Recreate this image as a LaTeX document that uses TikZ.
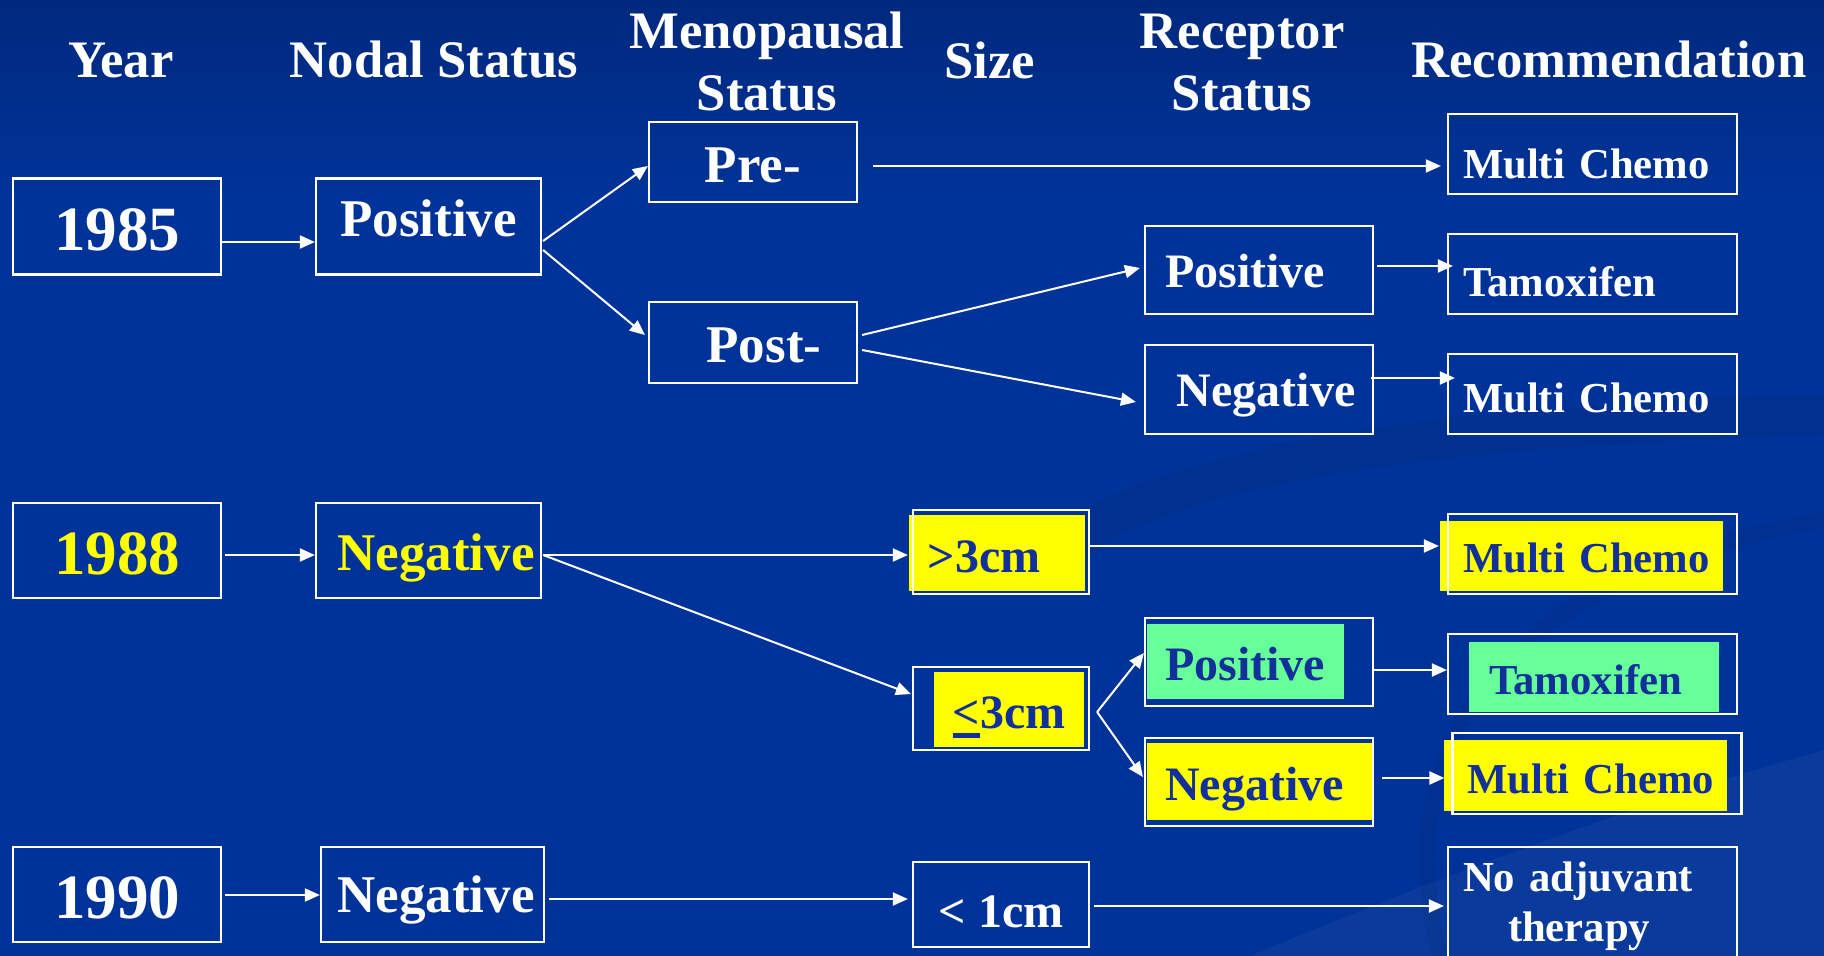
\documentclass[tikz,border=0pt]{standalone}
\usepackage{fontspec}
\setmainfont{Liberation Serif}
\usetikzlibrary{arrows.meta,calc}
\definecolor{slideblue}{HTML}{003399}
\definecolor{slidetop}{HTML}{00297E}
\definecolor{hiyellow}{HTML}{FFFF00}
\definecolor{higreen}{HTML}{66FF99}
\definecolor{hiink}{HTML}{12309A}

\begin{document}
\begin{tikzpicture}[x=1pt, y=-1pt, >={Triangle[length=15pt,width=13pt]}]
  \tikzstyle{box}=[rectangle, draw=white, line width=2.2pt, text=white, inner sep=0pt]
  \tikzstyle{head}=[text=white, font=\bfseries\fontsize{52.7}{62.5}\selectfont, align=center, anchor=base]
  \tikzstyle{yearbox}=[box, minimum width=208pt, minimum height=96pt, text height=48pt, text depth=0pt, font=\bfseries\fontsize{63}{70}\selectfont]
  \tikzstyle{nodal}=[box, minimum width=225pt, minimum height=96pt, text height=40pt, text depth=0pt, font=\bfseries\fontsize{53}{60}\selectfont]
  \tikzstyle{sizebox}=[box, minimum width=176pt, minimum height=84pt, text height=40pt, text depth=0pt, font=\bfseries\fontsize{48}{55}\selectfont]
  \tikzstyle{recept}=[box, minimum width=228pt, minimum height=88pt, text height=34pt, text depth=0pt, font=\bfseries\fontsize{48}{55}\selectfont]
  \tikzstyle{advice}=[box, minimum width=289pt, minimum height=80pt, text width=259pt, inner xsep=15pt, align=left, text height=40pt, text depth=0pt, font=\bfseries\fontsize{42.7}{50}\selectfont]
  \tikzstyle{link}=[->, white, line width=2pt]

  \useasboundingbox (0,0) rectangle (1824,956);
  % background and swooshes
  \fill[slideblue] (0,0) rectangle (1824,956);
  \shade[top color=slidetop, bottom color=slideblue] (0,0) rectangle (1824,200);
  \fill[black, opacity=0.06] (1040,540) .. controls (1150,440) and (1500,400) .. (1824,395) -- (1824,435) .. controls (1500,445) and (1200,470) .. (1080,560) -- cycle;
  \draw[black, opacity=0.05, line width=16pt] (1440,956) .. controls (1390,760) and (1480,580) .. (1824,520);
  \fill[white, opacity=0.035] (1250,956) .. controls (1480,860) and (1680,790) .. (1824,750) -- (1824,956) -- cycle;

  % column heads
  \node[head] (hyear) at (121,77) {Year};
  \node[head] (hnodal) at (434,77) {Nodal Status};
  \node[head] (hmeno) at (767,110.5) {Menopausal\\Status};
  \node[head] (hsize) at (990,78) {Size};
  \node[head] (hrecep) at (1242,110.5) {Receptor\\Status};
  \node[head] (hadvice) at (1609,77) {Recommendation};

  % 1985
  \node[yearbox] (y85) at (117,226.5) {1985};
  \node[nodal, text depth=21pt] (pos85) at (428.5,226.5) {Positive};
  \node[nodal, minimum width=208pt, minimum height=80pt] (pre) at (753,162) {Pre-};
  \node[nodal, minimum width=208pt, minimum height=81pt] (post) at (753,342.5) {\hspace*{22pt}Post-};
  \node[recept] (rp85) at (1259,270) {Positive\hspace*{28pt}};
  \node[recept, minimum height=89pt] (rn85) at (1259,389.5) {\hspace*{14pt}Negative};
  \node[advice, text height=48pt] (mc1) at (1592.5,154) {Multi Chemo};
  \node[advice, text height=45pt] (tam1) at (1592.5,274) {Tamoxifen};
  \node[advice, text height=36pt] (mc2) at (1592.5,394) {Multi Chemo};

  % 1988
  \fill[hiyellow] (909,515) rectangle (1085,591);
  \fill[hiyellow] (934,672) rectangle (1084,747);
  \fill[higreen] (1147,624) rectangle (1344,699);
  \fill[hiyellow] (1147,743) rectangle (1373,820);
  \fill[hiyellow] (1440,521) rectangle (1723,591);
  \fill[higreen] (1469,642) rectangle (1719,712);
  \fill[hiyellow] (1444,740) rectangle (1727,811);
  \node[yearbox, text=hiyellow, minimum height=95pt] (y88) at (117,550.5) {1988};
  \node[nodal, text=hiyellow, minimum height=95pt] (neg88) at (428.5,550.5) {\hspace*{15pt}Negative};
  \node[sizebox, text=hiink] (big3) at (1001,552) {>3cm\hspace*{34pt}};
  \node[sizebox, text=hiink, minimum height=83pt] (small3) at (1001,708.5) {\hspace*{16pt}\rlap{\rule[-9pt]{27pt}{5pt}}<3cm};
  \node[recept, text=hiink, text height=37pt] (rp88) at (1259,662) {Positive\hspace*{28pt}};
  \node[recept, text=hiink, text height=36pt] (rn88) at (1259,782) {Negative\hspace*{9pt}};
  \node[advice, text=hiink, text height=36pt] (mc3) at (1592.5,554) {Multi Chemo};
  \node[advice, text=hiink, text height=41pt] (tam2) at (1592.5,674) {\hspace*{26pt}Tamoxifen};
  \node[advice, text=hiink, minimum width=288pt, minimum height=81pt, text height=39pt] (mc4) at (1597,773.5) {Multi Chemo};

  % 1990
  \node[yearbox, minimum height=95pt] (y90) at (117,894.5) {1990};
  \node[nodal, minimum width=223pt, minimum height=95pt, text depth=5pt] (neg90) at (432.5,894.5) {\hspace*{7pt}Negative};
  \node[sizebox, minimum height=85pt, text height=45pt] (small1) at (1001,904.5) {< 1cm};
  \node[advice, minimum height=150pt, text height=40pt, text depth=102pt] (noadj) at (1592.5,922) {No adjuvant\\\hspace*{45pt}therapy};

  % connectors
  \draw[link] ($(y85.east)+(0,15.5)$) -- ($(pos85.west)+(0,15.5)$);
  \draw[link] ($(pos85.east)+(1,14.5)$) -- ($(pre.west)+(0,4)$);
  \draw[link] ($(pos85.east)+(1,23.5)$) -- ($(post.west)+(-3,-7.5)$);
  \draw[link] ($(pre.east)+(15,4)$) -- ($(mc1.west)+(-6,12)$);
  \draw[link] ($(post.east)+(4,-7.5)$) -- ($(rp85.west)+(-4,-2)$);
  \draw[link] ($(post.east)+(4,7.5)$) -- ($(rn85.west)+(-8,12.5)$);
  \draw[link] ($(rp85.east)+(3,-4)$) -- ($(tam1.west)+(6,-8)$);
  \draw[link] ($(rn85.east)+(-3,-11.5)$) -- ($(mc2.west)+(8,-16)$);
  \draw[link] ($(y88.east)+(3,4.5)$) -- ($(neg88.west)+(0,4.5)$);
  \draw[link] ($(neg88.east)+(1,4.5)$) -- ($(big3.west)+(-4,3)$);
  \draw[link] ($(neg88.east)+(1,4.5)$) -- ($(small3.west)+(-1,-14.5)$);
  \draw[link] ($(big3.east)+(0,-6)$) -- ($(mc3.west)+(-8,-8)$);
  \draw[link] ($(small3.east)+(7,3.5)$) -- ($(rp88.west)+(0,-9)$);
  \draw[link] ($(small3.east)+(7,3.5)$) -- ($(rn88.west)+(-1,-5)$);
  \draw[link] ($(rp88.east)+(0,8)$) -- ($(tam2.west)+(0,-4)$);
  \draw[link] ($(rn88.east)+(8,-4)$) -- ($(mc4.west)+(-7,4.5)$);
  \draw[link] ($(y90.east)+(3,0.5)$) -- ($(neg90.west)+(0,0.5)$);
  \draw[link] ($(neg90.east)+(4,4.5)$) -- ($(small1.west)+(-4,-5.5)$);
  \draw[link] ($(small1.east)+(4,1.5)$) -- ($(noadj.west)+(-3,-16)$);
\end{tikzpicture}
\end{document}
